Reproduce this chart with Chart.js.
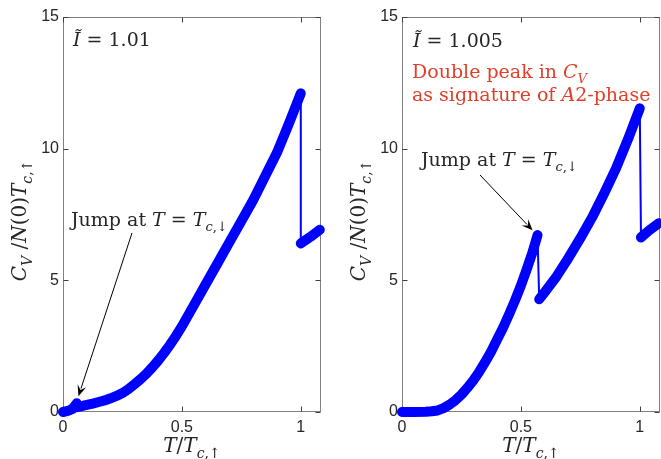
<!DOCTYPE html>
<html><head><meta charset="utf-8">
<script src="https://cdn.jsdelivr.net/npm/chart.js@4"></script>
<style>
html,body{margin:0;padding:0;background:#fff;}
#wrap{position:relative;width:661px;height:459px;overflow:hidden;background:#fff;}
canvas{position:absolute;top:0;}
</style></head><body>
<div id="wrap">
<canvas id="cl" width="330" height="459" style="left:0px"></canvas>
<canvas id="cr" width="331" height="459" style="left:330px"></canvas>
</div>
<script>
// ---- data ----
const leftT  = [0, 0.02, 0.04, 0.058, 0.06, 0.1, 0.125, 0.15, 0.175, 0.2, 0.225, 0.25, 0.275, 0.3, 0.325, 0.35, 0.375, 0.4, 0.425, 0.45, 0.475, 0.5, 0.55, 0.6, 0.65, 0.7, 0.75, 0.8, 0.85, 0.9, 0.95, 1.0, 1.0, 1.04, 1.08];
const leftCv = [0, 0.04, 0.12, 0.33, 0.18, 0.27, 0.32, 0.38, 0.44, 0.52, 0.61, 0.72, 0.87, 1.05, 1.24, 1.45, 1.69, 1.95, 2.24, 2.55, 2.89, 3.25, 4.05, 4.85, 5.65, 6.45, 7.25, 8.05, 8.95, 9.85, 10.95, 12.1, 6.4, 6.65, 6.92];
const rightT  = [0, 0.05, 0.1, 0.125, 0.15, 0.175, 0.2, 0.225, 0.25, 0.275, 0.3, 0.325, 0.35, 0.375, 0.4, 0.425, 0.45, 0.475, 0.5, 0.525, 0.55, 0.57, 0.577, 0.6, 0.65, 0.7, 0.75, 0.8, 0.85, 0.9, 0.95, 1.0, 1.005, 1.04, 1.08];
const rightCv = [0, 0, 0.01, 0.03, 0.06, 0.15, 0.28, 0.45, 0.66, 0.92, 1.2, 1.53, 1.9, 2.3, 2.75, 3.2, 3.7, 4.23, 4.8, 5.43, 6.1, 6.72, 4.28, 4.55, 5.15, 5.85, 6.6, 7.4, 8.3, 9.25, 10.35, 11.53, 6.63, 6.9, 7.17];
const xTicks = [0, 0.5, 1];
const yTicks = [0, 5, 10, 15];
const xMin = 0, xMax = 1.085, yMin = 0, yMax = 15;
const leftLabel = " = 1.01";
const rightLabel = " = 1.005";
const leftArrowTip = {x: 0.065, y: 0.6};
const rightArrowTip = {x: 0.549, y: 6.9};

// ---- styles ----
const BLUE = '#0000ff';
const FRAME = '#808080';
const TXT = '#262626';
const RED = '#e0402a';
const SERIF = '"DejaVu Serif", "Liberation Serif", serif';
let FS = 19;

function drawRich(ctx, parts, x, y, align, color) {
  const fontFor = f => (f.includes('i') ? 'italic ' : '') + (f.includes('s') ? Math.round(FS*0.68) : FS) + 'px ' + SERIF;
  let w = 0;
  parts.forEach(([t, f]) => { ctx.font = fontFor(f); w += ctx.measureText(t).width; });
  let cx = align === 'center' ? x - w/2 : x;
  ctx.fillStyle = color || TXT;
  ctx.textBaseline = 'alphabetic';
  ctx.textAlign = 'left';
  parts.forEach(([t, f]) => {
    ctx.font = fontFor(f);
    ctx.fillText(t, cx, y + (f.includes('s') ? FS*0.28 : 0));
    cx += ctx.measureText(t).width;
  });
}

function arrow(ctx, x1, y1, x2, y2) {
  ctx.save();
  ctx.strokeStyle = '#000'; ctx.fillStyle = '#000'; ctx.lineWidth = 1;
  const a = Math.atan2(y2 - y1, x2 - x1);
  const L = 11, W = 4.5;
  const bx = x2 - L*Math.cos(a), by = y2 - L*Math.sin(a);
  ctx.beginPath(); ctx.moveTo(x1, y1); ctx.lineTo(bx + 3*Math.cos(a), by + 3*Math.sin(a)); ctx.stroke();
  ctx.beginPath();
  ctx.moveTo(x2, y2);
  ctx.lineTo(bx - W*Math.sin(a), by + W*Math.cos(a));
  ctx.lineTo(x2 - 0.6*L*Math.cos(a), y2 - 0.6*L*Math.sin(a));
  ctx.lineTo(bx + W*Math.sin(a), by - W*Math.cos(a));
  ctx.closePath(); ctx.fill();
  ctx.restore();
}

const extras = {};

const framePlugin = {
  id: 'frame',
  beforeDatasetsDraw(chart) {
    const {ctx, chartArea: a, scales: {x, y}} = chart;
    ctx.save();
    ctx.strokeStyle = FRAME; ctx.lineWidth = 1;
    const l = Math.round(a.left) + 0.5, r = Math.round(a.right) - 0.5, t = Math.round(a.top) + 0.5, b = Math.round(a.bottom) - 0.5;
    ctx.strokeRect(l, t, r - l, b - t);
    ctx.strokeStyle = '#404040';
    ctx.beginPath();
    xTicks.forEach(v => { const px = Math.round(x.getPixelForValue(v)) + 0.5;
      ctx.moveTo(px, b); ctx.lineTo(px, b - 5); ctx.moveTo(px, t); ctx.lineTo(px, t + 5); });
    yTicks.forEach(v => { const py = Math.round(y.getPixelForValue(v)) + 0.5;
      ctx.moveTo(l, py); ctx.lineTo(l + 5, py); ctx.moveTo(r, py); ctx.lineTo(r - 5, py); });
    ctx.stroke();
    ctx.restore();
  },
  afterDraw(chart) {
    const {ctx, chartArea: a} = chart;
    const o = extras[chart.canvas.id];
    FS = 20;
    ctx.save();
    ctx.translate(o.yTitleX, (a.top + a.bottom)/2 + 6);
    ctx.rotate(-Math.PI/2);
    drawRich(ctx, [['C','i'],['V','is'],[' /',''],['N','i'],['(0)',''],['T','i'],['c','is'],[',\u2191','s']], 0, 0, 'center');
    ctx.restore();
    ctx.save();
    drawRich(ctx, [['T','i'],['/',''],['T','i'],['c','is'],[',\u2191','s']], (a.left + a.right)/2, 452, 'center');
    ctx.restore();
    FS = 19;
    ctx.save();
    o.draw(chart);
    ctx.restore();
  }
};

function makeChart(id, T, Cv, yAxisWidth, padRight) {
  return new Chart(document.getElementById(id), {
    type: 'scatter',
    data: { datasets: [{
      data: T.map((t, i) => ({x: t, y: Cv[i]})),
      showLine: true,
      borderColor: BLUE,
      backgroundColor: BLUE,
      borderWidth: 10,
      borderCapStyle: 'round',
      borderJoinStyle: 'round',
      pointRadius: 0,
      clip: false,
      segment: { borderWidth: c => (c.p1.parsed.x - c.p0.parsed.x < 0.01 ? 2 : 10) }
    }]},
    options: {
      responsive: false, animation: false, devicePixelRatio: 1,
      layout: { padding: { top: 17, right: padRight, left: 0, bottom: 0 } },
      plugins: { legend: {display: false}, tooltip: {enabled: false} },
      scales: {
        x: { type: 'linear', min: xMin, max: xMax,
          grid: {display: false, drawTicks: false}, border: {display: false},
          afterBuildTicks: s => { s.ticks = xTicks.map(v => ({value: v})); },
          afterFit: s => { s.height = 47; },
          ticks: { padding: 6, color: TXT, font: {family: '"Liberation Sans", Arial, sans-serif', size: 16}, maxRotation: 0, callback: v => String(v) } },
        y: { type: 'linear', min: yMin, max: yMax,
          grid: {display: false, drawTicks: false}, border: {display: false},
          afterBuildTicks: s => { s.ticks = yTicks.map(v => ({value: v})); },
          afterFit: s => { s.width = yAxisWidth; },
          ticks: { padding: 4, color: TXT, font: {family: '"Liberation Sans", Arial, sans-serif', size: 16}, callback: v => String(v) } }
      }
    },
    plugins: [framePlugin]
  });
}

extras.cl = {
  yTitleX: 26,
  draw(chart) {
    const {ctx, scales: {x, y}} = chart;
    drawRich(ctx, [['\u0128','i'],[leftLabel,'']], 73, 46);
    drawRich(ctx, [['Jump at ',''],['T','i'],[' = ',''],['T','i'],['c','is'],[',\u2193','s']], 71, 226);
    arrow(ctx, 132, 233, x.getPixelForValue(leftArrowTip.x), y.getPixelForValue(leftArrowTip.y));
  }
};
extras.cr = {
  yTitleX: 35,
  draw(chart) {
    const {ctx, scales: {x, y}} = chart;
    drawRich(ctx, [['\u0128','i'],[rightLabel,'']], 83, 47);
    drawRich(ctx, [['Double peak in ',''],['C','i'],['V','is']], 82, 78, 'left', RED);
    drawRich(ctx, [['as signature of ',''],['A','i'],['2-phase','']], 82, 101, 'left', RED);
    drawRich(ctx, [['Jump at ',''],['T','i'],[' = ',''],['T','i'],['c','is'],[',\u2193','s']], 91, 166);
    arrow(ctx, 150, 175, x.getPixelForValue(rightArrowTip.x), y.getPixelForValue(rightArrowTip.y));
  }
};

makeChart('cl', leftT, leftCv, 63, 9);
makeChart('cr', rightT, rightCv, 72, 1);
</script>
</body></html>
